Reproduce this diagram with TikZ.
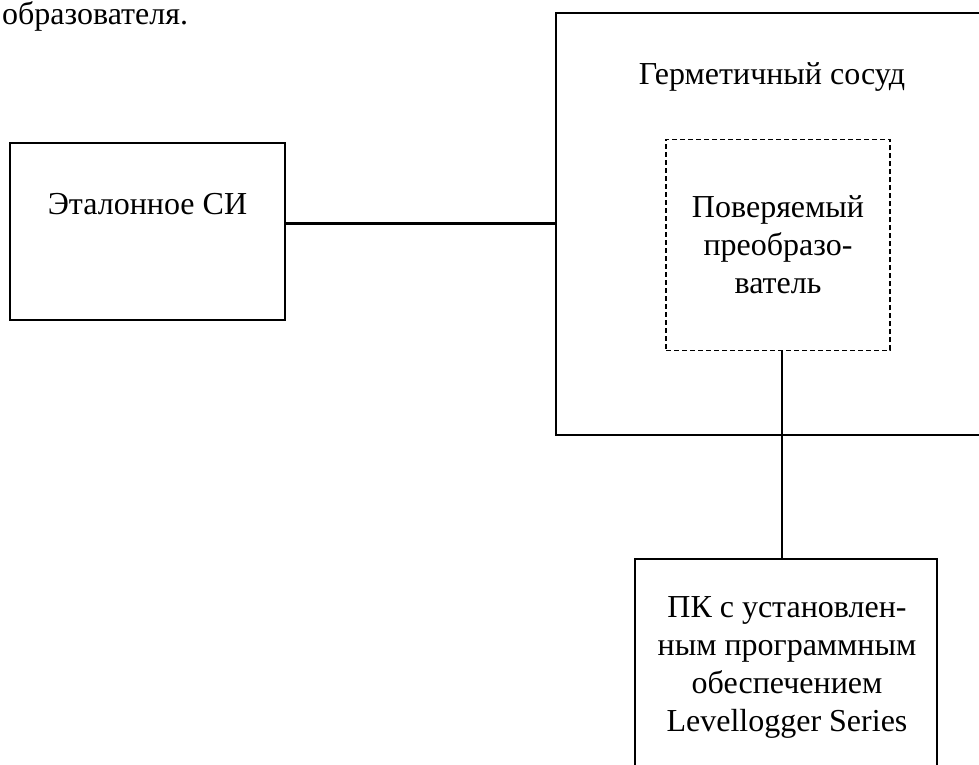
\documentclass[tikz,border=0pt]{standalone}
\usepackage{fontspec}
\setmainfont{Liberation Serif}
\begin{document}
\begin{tikzpicture}[x=1pt,y=1pt,
  box/.style={draw,line width=1.6pt,rectangle,inner sep=0pt},
  txt/.style={font=\fontsize{32}{38}\selectfont,align=center}]
\clip (0,0) rectangle (979,765);
\node[txt,anchor=base west,inner sep=0pt] (prev) at (2,740) {образователя.};
\node[box,minimum width=275pt,minimum height=177pt] (E) at (147.5,533.5) {};
\node[txt] (Etext) at ([yshift=-62pt]E.north) {Эталонное СИ};
\node[box,minimum width=450pt,minimum height=422pt] (G) at (781,541) {};
\node[txt] (Gtext) at (772,688) {Герметичный сосуд};
\node[box,txt,line width=1.2pt,dash pattern=on 5pt off 3pt,minimum width=224pt,minimum height=211pt] (P) at (778,520) {Поверяемый\\преобразо-\\ватель};
\node[box,minimum width=302pt,minimum height=240pt] (PC) at (786,86) {};
\node[txt] (PCtext) at (787,98) {ПК с установлен-\\ным программным\\обеспечением\\Levellogger Series};
\draw[line width=3pt] (G.west) -- (G.west -| E.east);
\draw[line width=1.2pt] ([xshift=4pt]P.south) -- ([xshift=4pt]P.south |- PC.north);
\end{tikzpicture}
\end{document}
